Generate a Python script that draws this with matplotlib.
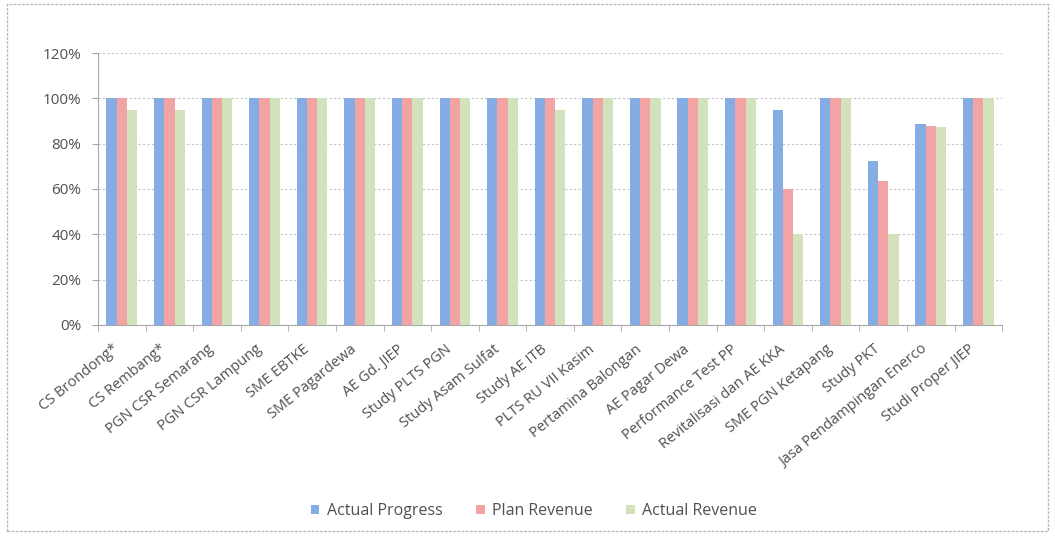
import numpy as np
import matplotlib.pyplot as plt
import matplotlib.transforms as mtransforms
from matplotlib.patches import Rectangle
from matplotlib.ticker import FuncFormatter

# data (percent)
projects = ["CS Brondong*", "CS Rembang*", "PGN CSR Semarang", "PGN CSR Lampung",
            "SME EBTKE", "SME Pagardewa", "AE Gd. JIEP", "Study PLTS PGN",
            "Study Asam Sulfat", "Study AE ITB", "PLTS RU VII Kasim",
            "Pertamina Balongan", "AE Pagar Dewa", "Performance Test PP",
            "Revitalisasi dan AE KKA", "SME PGN Ketapang", "Study PKT",
            "Jasa Pendampingan Enerco", "Studi Proper JIEP"]
actual_progress = [100, 100, 100, 100, 100, 100, 100, 100, 100, 100,
                   100, 100, 100, 100, 95, 100, 72.5, 88.5, 100]
plan_revenue = [100, 100, 100, 100, 100, 100, 100, 100, 100, 100,
                100, 100, 100, 100, 60, 100, 63.5, 87.8, 100]
actual_revenue = [95, 95, 100, 100, 100, 100, 100, 100, 100, 95,
                  100, 100, 100, 100, 40, 100, 40, 87.5, 100]
series_names = ["Actual Progress", "Plan Revenue", "Actual Revenue"]
series_colors = ["#86ACE4", "#F2A3A3", "#D2E2BC"]

plt.rcParams['font.family'] = ['Open Sans', 'DejaVu Sans']
txt = "#505050"

fig = plt.figure(figsize=(10.55, 5.37), dpi=100)
ax = fig.add_axes([0.0929, 0.3948, 0.857, 0.5065])

# outer chart border
fig.patches.append(Rectangle((0.007, 0.011), 0.986, 0.981, transform=fig.transFigure,
                             fill=False, edgecolor="#b8b8b8", lw=1.0, ls=(0, (2, 1))))

x = np.arange(len(projects))
w = 0.215
for k, (vals, name, col) in enumerate(zip([actual_progress, plan_revenue, actual_revenue],
                                          series_names, series_colors)):
    ax.bar(x + (k - 1) * w, vals, width=w, color=col, label=name, zorder=3)

ax.set_xlim(-0.5, len(projects) - 0.5)
ax.set_ylim(0, 120)
ax.set_yticks(np.arange(0, 121, 20))
ax.yaxis.set_major_formatter(FuncFormatter(lambda v, p: f"{v:.0f}%"))
ax.grid(axis='y', color="#c4c4c4", ls=(0, (2, 2)), lw=0.8, zorder=0)

for s in ["top", "right"]:
    ax.spines[s].set_visible(False)
ax.spines["left"].set_color("#a8a8a8")
ax.spines["bottom"].set_color("#a8a8a8")

ax.set_xticks(x)
ax.set_xticklabels(projects, rotation=39, ha='right', va='top', rotation_mode='anchor',
                   fontsize=10.5, color=txt)
ax.tick_params(axis='x', length=0, pad=12)
# shift rotated labels so their ends sit under the group centres
shift = mtransforms.ScaledTranslation(-7 / 72, 0, fig.dpi_scale_trans)
for lab in ax.get_xticklabels():
    lab.set_transform(lab.get_transform() + shift)
ax.set_xticks(np.arange(-0.5, len(projects), 1), minor=True)
ax.tick_params(axis='x', which='minor', length=4, color="#a8a8a8", direction='out')
ax.tick_params(axis='y', length=4, color="#a8a8a8", labelsize=11, labelcolor=txt, pad=8)

fig.legend(loc='center', bbox_to_anchor=(0.506, 0.048), ncol=3, frameon=False,
           fontsize=11.5, handlelength=0.55, handleheight=0.55, columnspacing=2.1,
           handletextpad=0.45, labelcolor=txt)

fig.savefig("out.png", dpi=100)
